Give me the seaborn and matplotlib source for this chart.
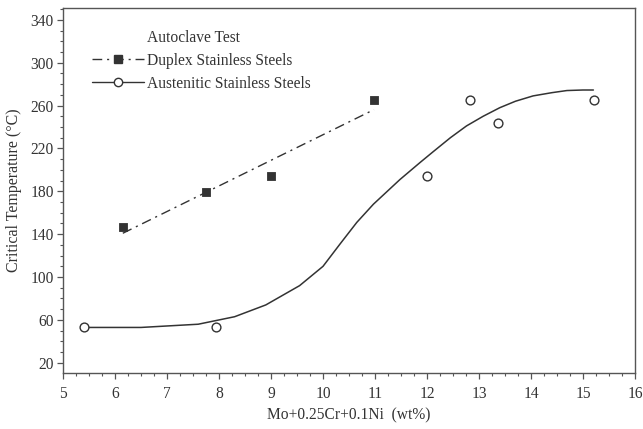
import matplotlib
matplotlib.use("Agg")
import matplotlib.pyplot as plt
from matplotlib.lines import Line2D
from matplotlib.ticker import MultipleLocator, FixedLocator
import seaborn as sns
import pandas as pd

# ---- data ----
duplex_x = [6.15, 7.75, 9.0, 10.98]
duplex_y = [147, 179, 194, 265]

austenitic_x = [5.4, 7.95, 12.0, 12.83, 13.37, 15.22]
austenitic_y = [53, 53, 194, 265, 244, 265]

# hand-drawn smooth trend curve for austenitic steels
curve_x = [5.4, 6.5, 7.6, 8.3, 8.9, 9.55, 10.0, 10.33, 10.65, 10.97, 11.48, 11.87,
           12.12, 12.45, 12.76, 13.08, 13.4, 13.7, 14.04, 14.4, 14.69, 15.0, 15.2]
curve_y = [53, 53, 56, 63, 74, 92, 110, 131, 151, 168, 191, 207,
           217, 230, 241, 250, 258, 264, 269, 272, 274, 274.5, 274.5]

x_ticks = [5, 6, 7, 8, 9, 10, 11, 12, 13, 14, 15, 16]
y_ticks = [20, 60, 100, 140, 180, 220, 260, 300, 340]

x_label = "Mo+0.25Cr+0.1Ni  (wt%)"
y_label = "Critical Temperature (°C)"
legend_title = "Autoclave Test"
duplex_label = "Duplex Stainless Steels"
austenitic_label = "Austenitic Stainless Steels"

# ---- styling ----
sns.set_theme(style="ticks")
plt.rcParams["font.family"] = ["Liberation Serif", "DejaVu Serif"]
plt.rcParams["axes.edgecolor"] = "#555555"
plt.rcParams["xtick.color"] = "#555555"
plt.rcParams["ytick.color"] = "#555555"
plt.rcParams["xtick.labelcolor"] = "#333333"
plt.rcParams["ytick.labelcolor"] = "#333333"

ink = "#333333"
fs = 11.2

fig = plt.figure(figsize=(6.43, 4.29), dpi=100)
ax = fig.add_axes([63 / 643, 1 - 373 / 429, 572 / 643, 365 / 429])

df_dup = pd.DataFrame({"x": duplex_x, "y": duplex_y})
df_aus = pd.DataFrame({"x": austenitic_x, "y": austenitic_y})
df_curve = pd.DataFrame({"x": curve_x, "y": curve_y})

dashdot = (0, (7, 3.5, 1.5, 3.5))

sns.regplot(data=df_dup, x="x", y="y", ax=ax, scatter=False, ci=None, truncate=True,
            line_kws=dict(color=ink, lw=1.0, linestyle=dashdot))
sns.lineplot(data=df_curve, x="x", y="y", ax=ax, color=ink, lw=1.1, sort=False)
sns.scatterplot(data=df_dup, x="x", y="y", ax=ax, marker="s", s=34,
                color=ink, edgecolor=ink, linewidth=0.6, zorder=5)
sns.scatterplot(data=df_aus, x="x", y="y", ax=ax, marker="o", s=40,
                facecolor="white", edgecolor=ink, linewidth=1.0, zorder=5)

ax.set_xlim(5, 16)
ax.set_ylim(10.5, 351)
ax.xaxis.set_major_locator(FixedLocator(x_ticks))
ax.xaxis.set_minor_locator(MultipleLocator(0.25))
ax.yaxis.set_major_locator(FixedLocator(y_ticks))
ax.yaxis.set_minor_locator(MultipleLocator(10))
ax.tick_params(axis="both", which="major", length=4.5, width=0.9, labelsize=fs, pad=2)
ax.tick_params(axis="both", which="minor", length=2.5, width=0.8)
ax.tick_params(axis="x", which="major", pad=5)
for s in ax.spines.values():
    s.set_linewidth(1.0)

ax.set_xlabel(x_label, fontsize=fs, color=ink, labelpad=4)
ax.set_ylabel(y_label, fontsize=fs + 0.3, color=ink, labelpad=6)

handles = [
    Line2D([], [], color=ink, lw=1.0, linestyle=dashdot, marker="s", markersize=5.5,
           markerfacecolor=ink, markeredgecolor=ink),
    Line2D([], [], color=ink, lw=1.0, linestyle="-", marker="o", markersize=6,
           markerfacecolor="white", markeredgecolor=ink),
]
leg = ax.legend(handles, [duplex_label, austenitic_label], loc="upper left",
                bbox_to_anchor=(0.040, 0.894), frameon=False, fontsize=fs,
                handlelength=3.33, handletextpad=0.2, labelspacing=0.43,
                borderaxespad=0)
for t in leg.get_texts():
    t.set_color(ink)
ax.text((147 - 63) / 572, (373 - 38) / 365, legend_title, transform=ax.transAxes,
        fontsize=fs, color=ink, ha="left", va="center")

fig.savefig("out.png", dpi=100, facecolor="white")
